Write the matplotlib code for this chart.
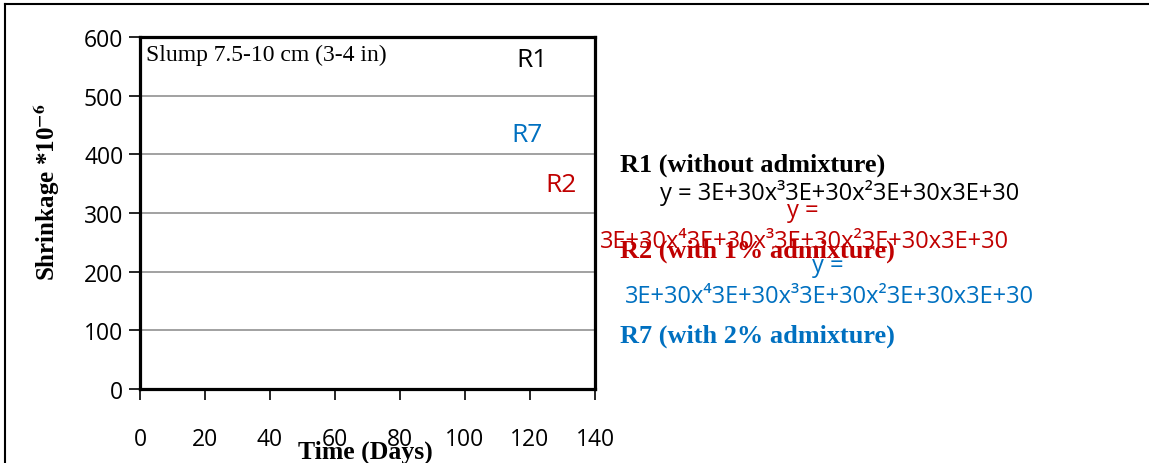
import matplotlib
matplotlib.use("Agg")
import matplotlib.pyplot as plt

# chart values (the series lines themselves are not shown in the source, only labels)
x_ticks = [0, 20, 40, 60, 80, 100, 120, 140]
y_ticks = [0, 100, 200, 300, 400, 500, 600]
series = ["R1", "R7", "R2"]
series_colors = ["#000000", "#0070C0", "#C00000"]
label_x = [120.5, 119.2, 129.5]
label_y = [562, 434, 348]

legend_names = ["R1 (without admixture)", "R2 (with 1% admixture)", "R7 (with 2% admixture)"]
eq_r1 = "y = 3E+30x\u00b33E+30x\u00b23E+30x3E+30"
eq_r2 = "3E+30x\u20743E+30x\u00b33E+30x\u00b23E+30x3E+30"
eq_r7 = "3E+30x\u20743E+30x\u00b33E+30x\u00b23E+30x3E+30"

plt.rcParams['mathtext.fontset'] = 'stix'
sans = ['Open Sans', 'DejaVu Sans']
serif = ['Liberation Serif', 'DejaVu Serif']

W, H = 1149, 464
fig = plt.figure(figsize=(W / 100, H / 100), dpi=100)
ax = fig.add_axes([140 / W, 1 - 390 / H, 455 / W, 352 / H])

ax.set_xlim(0, 140)
ax.set_ylim(0, 600)
ax.set_xticks(x_ticks)
ax.set_yticks(y_ticks)
ax.yaxis.grid(True, color="#9a9a9a", linewidth=1.3)
ax.set_axisbelow(True)
for s in ax.spines.values():
    s.set_linewidth(2.3)
    s.set_color("black")
ax.tick_params(axis='x', direction='out', length=8, width=1.2, pad=19)
ax.tick_params(axis='y', direction='out', length=8, width=1.2, pad=4)
for lab in ax.get_xticklabels() + ax.get_yticklabels():
    lab.set_family(sans)
    lab.set_fontsize(16.5)

ax.set_xlabel("Time (Days)", family=serif, fontweight='bold', fontsize=18.5, va='center')
ax.xaxis.set_label_coords((365 - 140) / 455, (390 - 452) / 352)
ax.set_ylabel(r"Shrinkage *10$^{\mathbf{-6}}$", family=serif, fontweight='bold',
              fontsize=18, va='center')
ax.yaxis.set_label_coords((47 - 140) / 455, (390 - 192) / 352)

ax.text(2, 571, "Slump 7.5-10 cm (3-4 in)", family=serif, fontsize=17, va='center')

for name, c, lx, ly in zip(series, series_colors, label_x, label_y):
    ax.text(lx, ly, name, color=c, family=sans, fontsize=19, va='center', ha='center')

# equation / legend texts to the right of the plot area
def ftext(px, py, s, **kw):
    fig.text(px / W, 1 - py / H, s, va='center', **kw)

ftext(620, 165, legend_names[0], color=series_colors[0], family=serif, fontweight='bold', fontsize=18.9)
ftext(660, 193, eq_r1, color=series_colors[0], family=sans, fontsize=17)
ftext(787, 211, "y =", color=series_colors[2], family=sans, fontsize=17)
ftext(600, 242, eq_r2, color=series_colors[2], family=sans, fontsize=17)
ftext(620, 251, legend_names[1], color=series_colors[2], family=serif, fontweight='bold', fontsize=18.9)
ftext(812, 266, "y =", color=series_colors[1], family=sans, fontsize=17)
ftext(625, 297, eq_r7, color=series_colors[1], family=sans, fontsize=17)
ftext(620, 336, legend_names[2], color=series_colors[1], family=serif, fontweight='bold', fontsize=18.9)

# outer chart border (top and left visible)
fig.add_artist(plt.Line2D([5 / W, 5 / W], [0, 1 - 5 / H], color='black', linewidth=1.5))
fig.add_artist(plt.Line2D([5 / W, 1], [1 - 5 / H, 1 - 5 / H], color='black', linewidth=1.5))

fig.savefig("out.png", dpi=100)
